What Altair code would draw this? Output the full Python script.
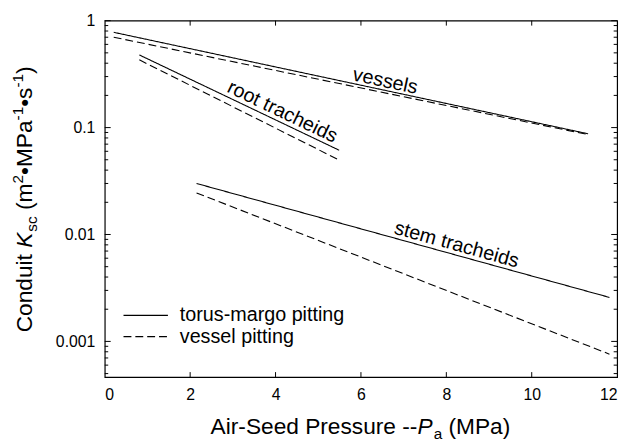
import altair as alt
import pandas as pd

# ---- data ----
series = ["vessels", "vessels", "root tracheids", "root tracheids", "stem tracheids", "stem tracheids"]
pitting = ["torus-margo pitting", "vessel pitting"] * 3
x_start = [0.21, 0.21, 0.81, 0.81, 2.15, 2.15]
y_start = [0.778, 0.70, 0.478, 0.43, 0.030, 0.0245]
x_end = [11.32, 11.32, 5.49, 5.49, 11.82, 11.82]
y_end = [0.0875, 0.086, 0.0614, 0.0497, 0.00258, 0.00076]

label_text = ["vessels", "root tracheids", "stem tracheids"]
label_x = [6.57, 4.16, 8.24]
label_y = [0.271, 0.140, 0.0080]
label_angle = [12, 25.6, 15.5]

x_ticks = [0, 2, 4, 6, 8, 10, 12]
y_ticks = [0.001, 0.01, 0.1, 1]
legend_items = ["torus-margo pitting", "vessel pitting"]

# ---- layout ----
W, H = 519, 361
FONT = "Liberation Sans"
Y_DOMAIN = [0.000464, 1]
X_DOMAIN = [0, 12]

xs = alt.Scale(domain=X_DOMAIN, nice=False, zero=False)
ys = alt.Scale(type="log", domain=Y_DOMAIN, nice=False)

rows = []
for s, p, x0, y0, x1, y1 in zip(series, pitting, x_start, y_start, x_end, y_end):
    rows.append({"series": s, "pitting": p, "x": x0, "y": y0, "o": 0})
    rows.append({"series": s, "pitting": p, "x": x1, "y": y1, "o": 1})
lines_df = pd.DataFrame(rows)

dash_scale = alt.Scale(domain=legend_items, range=[[1, 0], [8, 4]])

lines = alt.Chart(lines_df).mark_line(color="black", strokeWidth=1.1).encode(
    x=alt.X("x:Q", scale=xs,
            axis=alt.Axis(values=x_ticks, title=None, labelPadding=10, tickSize=0)),
    y=alt.Y("y:Q", scale=ys,
            axis=alt.Axis(values=y_ticks, format="~g", title=None, labelPadding=10, tickSize=0)),
    detail=["series:N", "pitting:N"],
    order="o:Q",
    strokeDash=alt.StrokeDash("pitting:N", scale=dash_scale, legend=None),
)

# series labels
label_layers = []
for t, lx, ly, ang in zip(label_text, label_x, label_y, label_angle):
    df = pd.DataFrame({"t": [t], "x": [lx], "y": [ly]})
    label_layers.append(
        alt.Chart(df).mark_text(font=FONT, fontSize=20, angle=ang, align="center",
                                baseline="middle", color="black").encode(
            x=alt.X("x:Q", scale=xs), y=alt.Y("y:Q", scale=ys), text="t:N")
    )

# inward ticks (frame ticks)
minor = []
for d in [0.0001, 0.001, 0.01, 0.1]:
    for k in range(2, 10):
        v = k * d
        if Y_DOMAIN[0] <= v <= Y_DOMAIN[1]:
            minor.append(v)
ymaj_df = pd.DataFrame({"v": y_ticks})
ymin_df = pd.DataFrame({"v": minor})
xt_df = pd.DataFrame({"v": x_ticks[1:-1]})

tick_layers = []
for df, L in [(ymaj_df, 6), (ymin_df, 3.5)]:
    tick_layers.append(alt.Chart(df).mark_rule(color="black", strokeWidth=1).encode(
        y=alt.Y("v:Q", scale=ys), x=alt.value(0), x2=alt.value(L)))
    tick_layers.append(alt.Chart(df).mark_rule(color="black", strokeWidth=1).encode(
        y=alt.Y("v:Q", scale=ys), x=alt.value(W), x2=alt.value(W - L)))
tick_layers.append(alt.Chart(xt_df).mark_rule(color="black", strokeWidth=1).encode(
    x=alt.X("v:Q", scale=xs), y=alt.value(0), y2=alt.value(5)))
tick_layers.append(alt.Chart(xt_df).mark_rule(color="black", strokeWidth=1).encode(
    x=alt.X("v:Q", scale=xs), y=alt.value(H), y2=alt.value(H - 5)))

# ---- rich-text titles built from pieces ----
CW = {' ': 278, '(': 333, ')': 333, '-': 333, '.': 278, '0': 556, '1': 556, '2': 556,
      'A': 667, 'C': 722, 'K': 667, 'M': 833, 'P': 667, 'S': 667, 'a': 556, 'c': 500,
      'd': 556, 'e': 556, 'i': 222, 'l': 222, 'm': 833, 'n': 556, 'o': 556, 'p': 556,
      'r': 333, 's': 500, 't': 278, 'u': 556, '\u2022': 350, 'g': 556, 'h': 556, 'v': 500}


def tw(s, size):
    return sum(CW.get(c, 556) for c in s) * size / 1000.0


one = pd.DataFrame({"a": [0]})
title_layers = []
F, FS = 23, 15.5


def piece_layout(pieces, start, direction):
    """yield (text_without_edge_spaces, size, style, shift, position)"""
    pos = start
    out = []
    for t, s, st, sh in pieces:
        lead = len(t) - len(t.lstrip(" "))
        core = t.strip(" ")
        p = pos + direction * tw(" " * lead, s)
        out.append((core, s, st, sh, p))
        pos += direction * (tw(t, s) + (1 if st == "italic" else 0))
    return out


# x title
xp = [("Air-Seed Pressure --", F, "normal", 0), ("P", F, "italic", 0),
      ("a", FS, "normal", 5), (" (MPa)", F, "normal", 0)]
total = sum(tw(t, s) for t, s, _, _ in xp) + 1
cx = 259
by = 419
for t, s, st, dy, px in piece_layout(xp, cx - total / 2, 1):
    title_layers.append(alt.Chart(one).mark_text(
        text=t, font=FONT, fontSize=s, fontStyle=st, align="left", baseline="alphabetic",
        color="black").encode(x=alt.value(px), y=alt.value(by + dy)))

# y title (rotated, reads bottom to top)
yp = [("Conduit ", F, "normal", 0), ("K", F, "italic", 0), ("sc", FS, "normal", 5),
      (" (m", F, "normal", 0), ("2", FS, "normal", -9), ("\u2022MPa", F, "normal", 0),
      ("-1", FS, "normal", -9), ("\u2022s", F, "normal", 0), ("-1", FS, "normal", -9),
      (")", F, "normal", 0)]
total = sum(tw(t, s) for t, s, _, _ in yp) + 1
cy = 181
bx = -74
for t, s, st, dx, py in piece_layout(yp, cy + total / 2, -1):
    title_layers.append(alt.Chart(one).mark_text(
        text=t, font=FONT, fontSize=s, fontStyle=st, align="left", baseline="alphabetic",
        angle=270, color="black").encode(x=alt.value(bx + dx), y=alt.value(py)))

# ---- in-plot legend ----
legend_layers = []
for i, (name, dash) in enumerate(zip(legend_items, [[1, 0], [8, 4]])):
    ly = 298.5 + i * 21.5
    legend_layers.append(alt.Chart(one).mark_rule(color="black", strokeWidth=1.1, strokeDash=dash).encode(
        x=alt.value(19), x2=alt.value(64), y=alt.value(ly)))
    legend_layers.append(alt.Chart(one).mark_text(
        text=name, font=FONT, fontSize=20, align="left", baseline="middle", color="black").encode(
        x=alt.value(76), y=alt.value(ly)))

chart = alt.layer(lines, *label_layers, *tick_layers, *title_layers, *legend_layers).properties(
    width=W, height=H,
    autosize=alt.AutoSizeParams(type="none"),
    padding={"left": 98, "top": 10, "right": 10, "bottom": 67},
).configure_view(stroke="black", strokeWidth=1.2).configure_axis(
    labelFont=FONT, labelFontSize=16, labelColor="black", domain=False, ticks=False, grid=False
)

chart.save("out.html", embed_options={"renderer": "svg", "actions": False})
